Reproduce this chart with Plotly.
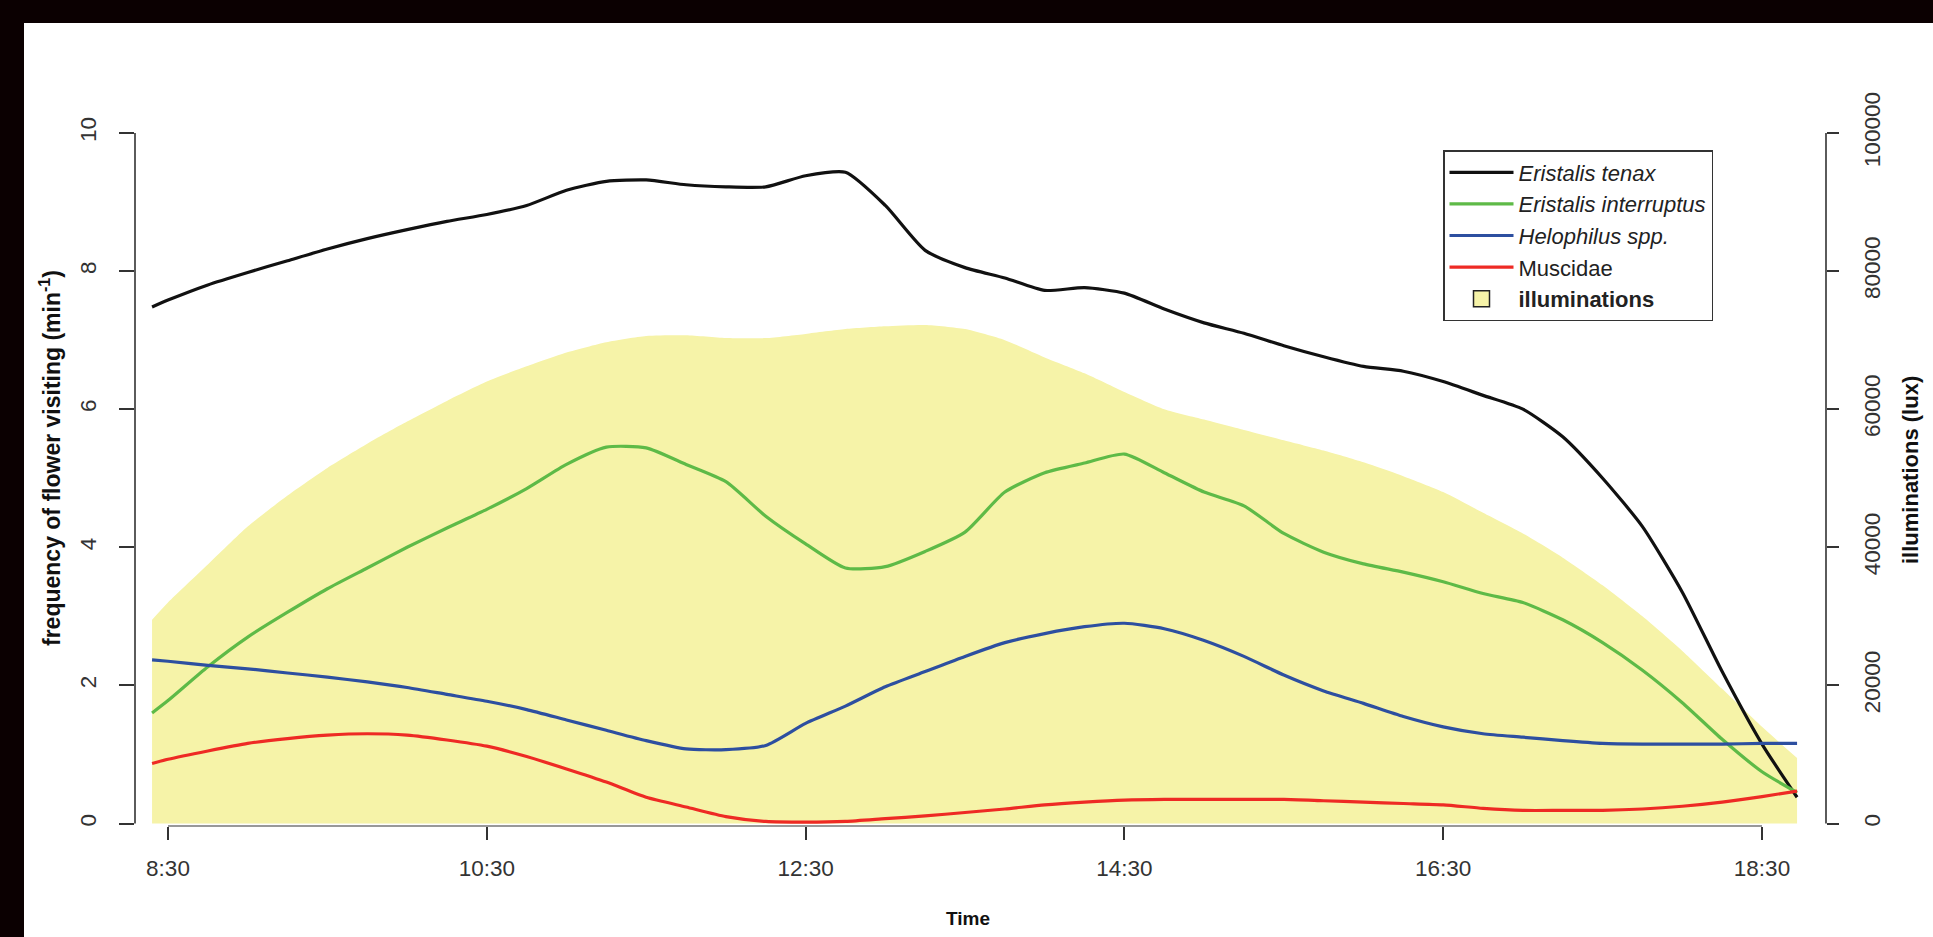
import plotly.graph_objects as go

# ---------------- data ----------------
time_h = [8.4, 8.5, 8.75, 9.0, 9.25, 9.5, 9.75, 10.0, 10.25, 10.5, 10.75, 11.0, 11.25,
          11.5, 11.75, 12.0, 12.25, 12.5, 12.75, 13.0, 13.25, 13.5, 13.75, 14.0, 14.25,
          14.5, 14.75, 15.0, 15.25, 15.5, 15.75, 16.0, 16.25, 16.5, 16.75, 17.0, 17.25,
          17.5, 17.75, 18.0, 18.25, 18.5, 18.72]

eristalis_tenax = [7.48, 7.58, 7.8, 7.98, 8.15, 8.32, 8.47, 8.6, 8.72, 8.82, 8.95, 9.17, 9.3,
                   9.32, 9.25, 9.22, 9.22, 9.38, 9.43, 8.95, 8.3, 8.05, 7.9, 7.72, 7.76,
                   7.68, 7.45, 7.25, 7.1, 6.92, 6.76, 6.62, 6.55, 6.4, 6.2, 6.0, 5.6,
                   5.0, 4.3, 3.35, 2.2, 1.15, 0.38]

eristalis_interruptus = [1.6, 1.78, 2.27, 2.7, 3.06, 3.4, 3.7, 4.0, 4.28, 4.55, 4.85, 5.2, 5.45,
                         5.44, 5.2, 4.95, 4.45, 4.05, 3.7, 3.72, 3.94, 4.22, 4.8, 5.08, 5.22,
                         5.35, 5.08, 4.8, 4.6, 4.2, 3.93, 3.76, 3.64, 3.5, 3.33, 3.2, 2.95,
                         2.62, 2.22, 1.75, 1.22, 0.75, 0.45]

helophilus = [2.37, 2.35, 2.29, 2.24, 2.18, 2.12, 2.05, 1.97, 1.87, 1.77, 1.65, 1.5, 1.35,
              1.2, 1.08, 1.07, 1.13, 1.45, 1.7, 1.98, 2.2, 2.42, 2.62, 2.75, 2.85,
              2.9, 2.82, 2.65, 2.42, 2.15, 1.92, 1.74, 1.55, 1.4, 1.3, 1.25, 1.2,
              1.16, 1.15, 1.15, 1.15, 1.16, 1.16]

muscidae = [0.87, 0.93, 1.05, 1.16, 1.23, 1.28, 1.3, 1.28, 1.21, 1.12, 0.97, 0.79, 0.6,
            0.38, 0.24, 0.1, 0.03, 0.02, 0.03, 0.07, 0.11, 0.16, 0.21, 0.27, 0.31,
            0.34, 0.35, 0.35, 0.35, 0.35, 0.33, 0.31, 0.29, 0.27, 0.22, 0.19, 0.19,
            0.19, 0.21, 0.25, 0.31, 0.39, 0.47]

illumination_lux = [29500, 32000, 37500, 43000, 47500, 51500, 55000, 58200, 61200, 64000, 66200, 68200, 69700,
                    70600, 70700, 70300, 70300, 70900, 71600, 72000, 72200, 71600, 70000, 67500, 65200,
                    62500, 60000, 58500, 57000, 55500, 54000, 52300, 50300, 48000, 45000, 42000, 38500,
                    34500, 30000, 25000, 19500, 14000, 9500]

x_tick_vals = [8.5, 10.5, 12.5, 14.5, 16.5, 18.5]
x_tick_text = ["8:30", "10:30", "12:30", "14:30", "16:30", "18:30"]
freq_ticks = [0, 2, 4, 6, 8, 10]
lux_ticks = [0, 20000, 40000, 60000, 80000, 100000]

series_names = ["<i>Eristalis tenax</i>", "<i>Eristalis interruptus</i>",
                "<i>Helophilus spp.</i>", "Muscidae"]
series_values = [eristalis_tenax, eristalis_interruptus, helophilus, muscidae]
series_colors = ["#111111", "#5EBA47", "#2D4FA0", "#EE2A24"]

YELLOW = "rgb(246,243,168)"
FONT = "Liberation Sans, Arial, sans-serif"

# ---------------- layout geometry ----------------
W, H = 1933, 937
ML, MR, MT, MB = 135, 107, 105, 111
PW, PH = W - ML - MR, H - MT - MB


def px_to_paper_x(px):
    return (px - ML) / PW


def px_to_paper_y(py):
    return (H - MB - py) / PH


fig = go.Figure()

# illumination area (base axis y -> drawn below the lines)
fig.add_trace(go.Scatter(
    x=time_h, y=illumination_lux, yaxis="y", mode="lines",
    line=dict(width=0, shape="spline", smoothing=0.6),
    fill="tozeroy", fillcolor=YELLOW, showlegend=False, hoverinfo="skip"))

for name, vals, col in zip(series_names, series_values, series_colors):
    fig.add_trace(go.Scatter(
        x=time_h, y=vals, yaxis="y2", mode="lines", name=name,
        line=dict(color=col, width=3.2, shape="spline", smoothing=0.6)))

# legend proxy for the illumination area
fig.add_trace(go.Scatter(
    x=[None], y=[None], yaxis="y2", mode="markers", name="<b>illuminations</b>",
    marker=dict(symbol="square", size=22, color=YELLOW,
                line=dict(color="#222222", width=1.5))))

shapes = [
    # black frame bands (image border)
    dict(type="rect", xref="paper", yref="paper",
         x0=px_to_paper_x(0), x1=px_to_paper_x(24), y0=px_to_paper_y(H), y1=px_to_paper_y(0),
         fillcolor="#0b0001", line=dict(width=0), layer="above"),
    dict(type="rect", xref="paper", yref="paper",
         x0=px_to_paper_x(0), x1=px_to_paper_x(W), y0=px_to_paper_y(23), y1=px_to_paper_y(0),
         fillcolor="#0b0001", line=dict(width=0), layer="above"),
    # R-style axis lines spanning first to last tick
    dict(type="line", xref="paper", yref="y2", x0=0, x1=0,
         y0=freq_ticks[0], y1=freq_ticks[-1], line=dict(color="#333333", width=1.6)),
    dict(type="line", xref="paper", yref="y", x0=1, x1=1,
         y0=lux_ticks[0], y1=lux_ticks[-1], line=dict(color="#333333", width=1.6)),
    dict(type="line", xref="x", yref="paper", x0=x_tick_vals[0], x1=x_tick_vals[-1],
         y0=0, y1=0, line=dict(color="#777777", width=1.6)),
]

annotations = [
    dict(text="<b>Time</b>", xref="paper", yref="paper",
         x=px_to_paper_x(968), y=px_to_paper_y(918), xanchor="center", yanchor="middle",
         showarrow=False, font=dict(family=FONT, size=19, color="#111111")),
    dict(text="<b>frequency of flower visiting (min<sup>-1</sup>)</b>", xref="paper", yref="paper",
         x=px_to_paper_x(50), y=px_to_paper_y(458), xanchor="center", yanchor="middle",
         textangle=-90, showarrow=False, font=dict(family=FONT, size=23, color="#111111")),
    dict(text="<b>illuminations (lux)</b>", xref="paper", yref="paper",
         x=px_to_paper_x(1910), y=px_to_paper_y(470), xanchor="center", yanchor="middle",
         textangle=-90, showarrow=False, font=dict(family=FONT, size=22, color="#111111")),
]

tickfont = dict(family=FONT, size=22.5, color="#333333")

fig.update_layout(
    width=W, height=H,
    margin=dict(l=ML, r=MR, t=MT, b=MB, pad=0),
    paper_bgcolor="white", plot_bgcolor="white",
    font=dict(family=FONT),
    shapes=shapes, annotations=annotations,
    xaxis=dict(range=[8.293, 18.9015], tickvals=x_tick_vals, ticktext=x_tick_text,
               showgrid=False, zeroline=False, showline=False,
               ticks="outside", ticklen=13, tickwidth=1.6, tickcolor="#333333",
               tickfont=tickfont, ticklabelstandoff=9),
    yaxis=dict(range=[-360, 104050], side="right", tickvals=lux_ticks,
               ticktext=[str(v) for v in lux_ticks], tickangle=-90,
               showgrid=False, zeroline=False, showline=False,
               ticks="outside", ticklen=12, tickwidth=1.6, tickcolor="#333333",
               tickfont=tickfont, ticklabelstandoff=14),
    yaxis2=dict(range=[-0.036, 10.405], overlaying="y", side="left", tickvals=freq_ticks,
                ticktext=[str(v) for v in freq_ticks], tickangle=-90,
                showgrid=False, zeroline=False, showline=False,
                ticks="outside", ticklen=15, tickwidth=1.6, tickcolor="#333333",
                tickfont=tickfont, ticklabelstandoff=14),
    legend=dict(x=px_to_paper_x(1443), y=px_to_paper_y(150), xanchor="left", yanchor="top",
                bgcolor="white", bordercolor="#333333", borderwidth=1.5,
                font=dict(family=FONT, size=22, color="#222222"),
                itemsizing="trace", itemwidth=64, tracegroupgap=0),
    showlegend=True,
)

fig.write_html("out.html", config={"displayModeBar": False},
               post_script="document.body.style.margin='0';document.body.style.overflow='hidden';")
